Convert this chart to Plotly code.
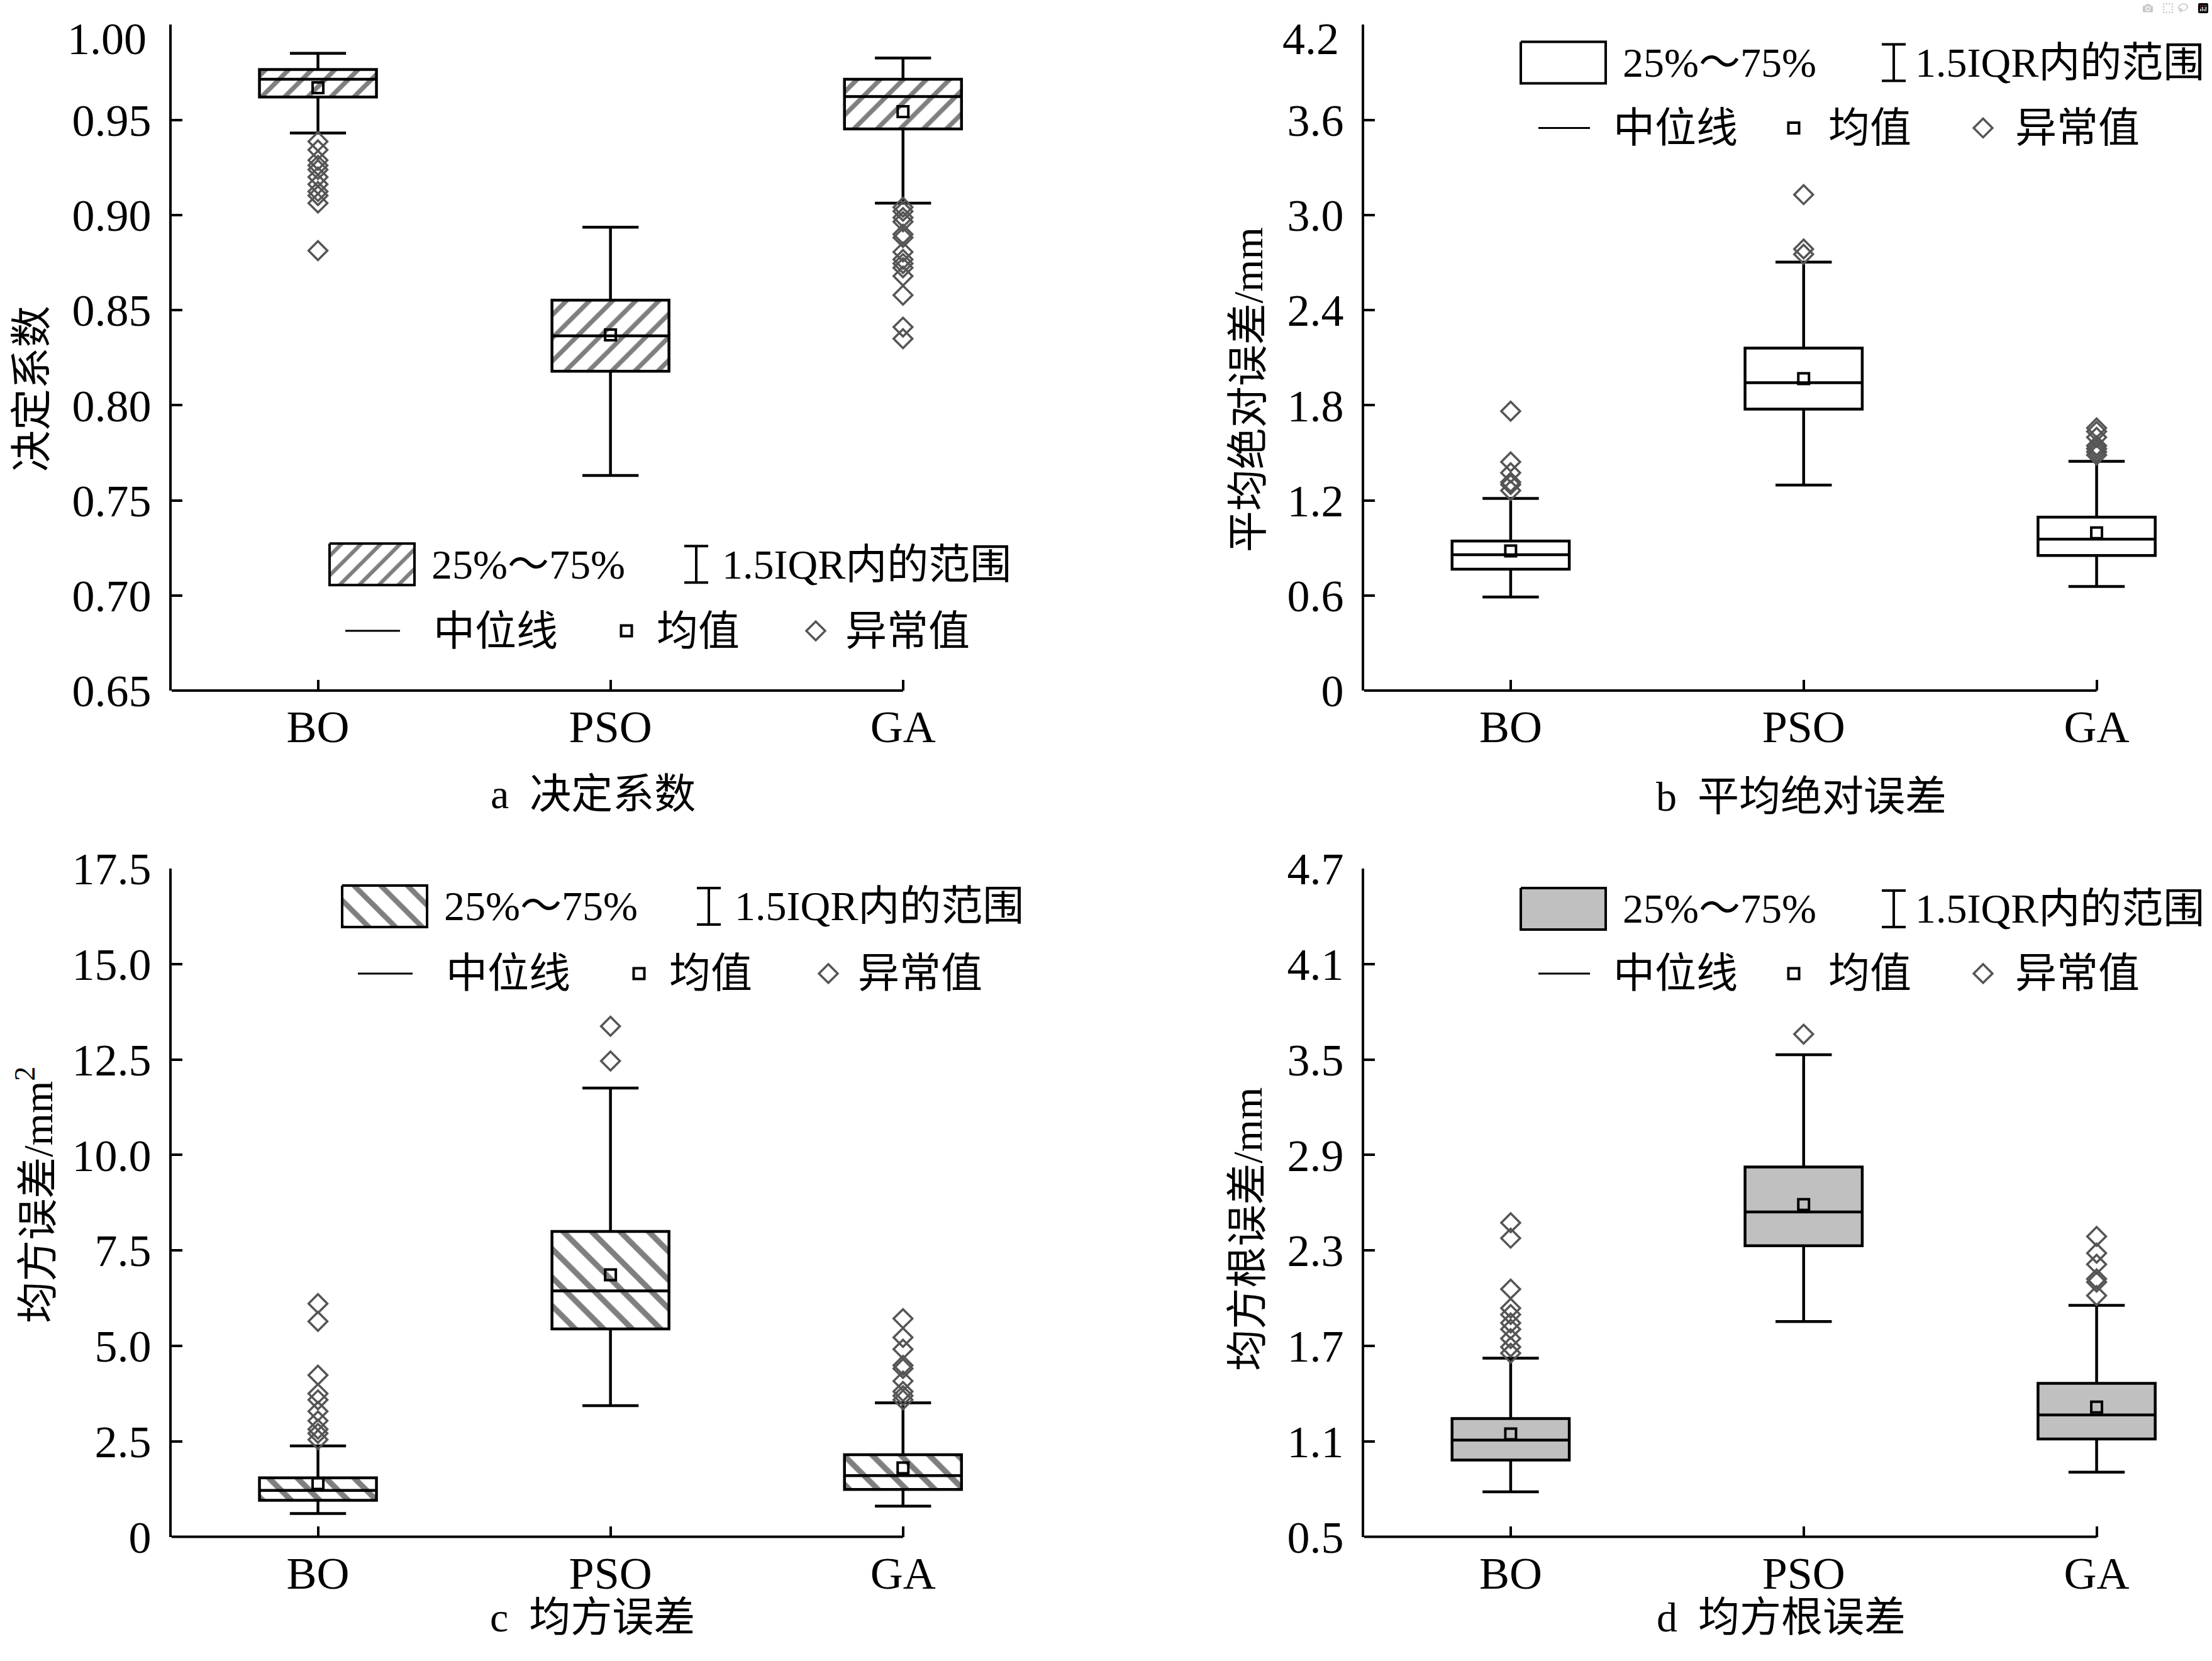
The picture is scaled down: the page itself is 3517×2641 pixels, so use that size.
import plotly.graph_objects as go

# ---- data ----
categories = ["BO", "PSO", "GA"]

# a 决定系数
r2_lower = [0.9431, 0.7631, 0.9063]
r2_q1 = [0.9621, 0.8179, 0.9453]
r2_median = [0.9714, 0.8365, 0.9623]
r2_q3 = [0.9765, 0.8553, 0.9714]
r2_upper = [0.9850, 0.8936, 0.9826]
r2_mean = [0.9669, 0.8370, 0.9544]
r2_outliers_bo = [0.9387, 0.9343, 0.9288, 0.9261, 0.9239, 0.9200, 0.9162, 0.9124, 0.9102, 0.9063, 0.8813]
r2_outliers_pso = []
r2_outliers_ga = [0.9041, 0.9020, 0.8987, 0.8965, 0.8899, 0.8882, 0.8806, 0.8767, 0.8745, 0.8723,
                  0.8679, 0.8579, 0.8411, 0.8350]
r2_ticks = [0.65, 0.70, 0.75, 0.80, 0.85, 0.90, 0.95, 1.00]
r2_ticktext = ["0.65", "0.70", "0.75", "0.80", "0.85", "0.90", "0.95", "1.00"]

# b 平均绝对误差
mae_lower = [0.591, 1.297, 0.657]
mae_q1 = [0.766, 1.776, 0.852]
mae_median = [0.857, 1.942, 0.956]
mae_q3 = [0.944, 2.161, 1.094]
mae_upper = [1.212, 2.703, 1.447]
mae_mean = [0.881, 1.968, 0.995]
mae_outliers_bo = [1.763, 1.443, 1.374, 1.315, 1.300, 1.262]
mae_outliers_pso = [3.129, 2.786, 2.753]
mae_outliers_ga = [1.657, 1.635, 1.598, 1.545, 1.526, 1.506, 1.486]
mae_ticks = [0, 0.6, 1.2, 1.8, 2.4, 3.0, 3.6, 4.2]
mae_ticktext = ["0", "0.6", "1.2", "1.8", "2.4", "3.0", "3.6", "4.2"]

# c 均方误差
mse_lower = [0.609, 3.436, 0.806]
mse_q1 = [0.956, 5.445, 1.240]
mse_median = [1.217, 6.44, 1.602]
mse_q3 = [1.546, 7.995, 2.150]
mse_upper = [2.380, 11.75, 3.510]
mse_mean = [1.393, 6.86, 1.804]
mse_outliers_bo = [6.108, 5.642, 4.233, 3.750, 3.586, 3.285, 3.038, 2.819, 2.709, 2.544]
mse_outliers_pso = [13.37, 12.46]
mse_outliers_ga = [5.714, 5.220, 4.913, 4.490, 4.408, 4.079, 3.806, 3.696, 3.586]
mse_ticks = [0, 2.5, 5.0, 7.5, 10.0, 12.5, 15.0, 17.5]
mse_ticktext = ["0", "2.5", "5.0", "7.5", "10.0", "12.5", "15.0", "17.5"]

# d 均方根误差
rmse_lower = [0.783, 1.853, 0.906]
rmse_q1 = [0.982, 2.329, 1.115]
rmse_median = [1.108, 2.542, 1.266]
rmse_q3 = [1.243, 2.824, 1.465]
rmse_upper = [1.623, 3.530, 1.955]
rmse_mean = [1.147, 2.588, 1.315]
rmse_outliers_bo = [2.474, 2.377, 2.057, 1.937, 1.897, 1.844, 1.805, 1.746, 1.693, 1.654]
rmse_outliers_pso = [3.659]
rmse_outliers_ga = [2.388, 2.283, 2.213, 2.121, 2.101, 2.016]
rmse_ticks = [0.5, 1.1, 1.7, 2.3, 2.9, 3.5, 4.1, 4.7]
rmse_ticktext = ["0.5", "1.1", "1.7", "2.3", "2.9", "3.5", "4.1", "4.7"]

# ---- styling ----
W, H = 3517, 2641
# the page fills the browser viewport, which shows up as a band centred in the picture;
# all pixel positions below are picture positions, mapped onto the page here
OFFSET = 39.5
PAGE_H = H - 2 * OFFSET

FONT = "Liberation Serif, Noto Sans CJK SC"
FS = 66          # chinese text
FS_TICK = 72     # latin tick labels
LW = 4
BOX_LW = 4.5
OUTLIER_COLOR = "#555555"
GRAY_FILL = "#c0c0c0"
X_RANGE = [-0.5, 2.25]   # axis line itself stops at the last category

# plot areas in picture pixels: left, right (end of x range), top, bottom
LEFT_X = (273, 1552)
RIGHT_X = (2169, 3450)
TOP_Y = (40, 1099)
BOTTOM_Y = (1382, 2445)
TOP_LABEL_Y = 63   # top tick label of the upper panels, kept inside the page

# legend key offsets (pixels, relative to left edge of the legend box)
LEFT_LEGEND = dict(t1=160, iqr=583, t2=622, line=(25, 112), med=163, sq=472, mean=518, dia=773, out=818)
RIGHT_LEGEND = dict(t1=160, iqr=593, t2=625, line=(28, 110), med=145, sq=434, mean=487, dia=735, out=784)


def _xdom(px):
    return [px[0] / W, px[1] / W]


def _ydom(px):
    return [1 - (px[1] - OFFSET) / PAGE_H, 1 - (px[0] - OFFSET) / PAGE_H]


def _axis_common():
    return dict(linecolor="black", linewidth=LW, ticks="inside", ticklen=17,
                tickwidth=LW, tickcolor="black", showgrid=False, zeroline=False,
                tickfont=dict(family=FONT, size=FS_TICK, color="black"), fixedrange=True)


def _add_panel(fig, n, stats, outliers, ticks, ticktext, fill, hatch, hatch_size, left_px, top_row):
    """Adds one box-plot panel on axes x{n}/y{n}."""
    xa = "x" if n == 1 else f"x{n}"
    ya = "y" if n == 1 else f"y{n}"
    lower, q1, median, q3, upper, mean = stats

    # hatch inside the 25%-75% box
    if hatch:
        fig.add_trace(go.Bar(
            x=categories, y=[b - a for a, b in zip(q1, q3)], base=q1, width=0.4,
            marker=dict(color="rgba(0,0,0,0)", line_width=0,
                        pattern=dict(shape=hatch, fgcolor="black", bgcolor="rgba(0,0,0,0)",
                                     size=hatch_size, solidity=0.28, fillmode="overlay")),
            showlegend=False, hoverinfo="skip", xaxis=xa, yaxis=ya))

    fig.add_trace(go.Box(
        x=categories, lowerfence=lower, q1=q1, median=median, q3=q3, upperfence=upper,
        width=0.4, whiskerwidth=0.48, boxpoints=False, fillcolor=fill,
        line=dict(color="black", width=BOX_LW), showlegend=False, xaxis=xa, yaxis=ya))

    # outliers
    ox, oy = [], []
    for cat, vals in zip(categories, outliers):
        ox += [cat] * len(vals)
        oy += list(vals)
    fig.add_trace(go.Scatter(
        x=ox, y=oy, mode="markers", cliponaxis=False,
        marker=dict(symbol="diamond-open", size=23, color=OUTLIER_COLOR, line=dict(width=3.5, color=OUTLIER_COLOR)),
        showlegend=False, xaxis=xa, yaxis=ya))

    # means
    fig.add_trace(go.Scatter(
        x=categories, y=mean, mode="markers", cliponaxis=False,
        marker=dict(symbol="square-open", size=17, color="black", line=dict(width=LW, color="black")),
        showlegend=False, xaxis=xa, yaxis=ya))

    # the top tick of the upper panels sits at the very edge of the page,
    # so its label is written just inside instead
    tv, tt = list(ticks), list(ticktext)
    if top_row:
        tv, tt = tv[:-1], tt[:-1]
        fig.add_annotation(xref="x5", yref="y5", x=left_px - 38, y=TOP_LABEL_Y, text=ticktext[-1],
                           showarrow=False, xanchor="right", yanchor="middle",
                           font=dict(family=FONT, size=FS_TICK, color="black"))
    fig.layout[f"yaxis{'' if n == 1 else n}"].update(
        range=[ticks[0], ticks[-1]], tickmode="array", tickvals=tv, ticktext=tt)

    # x axis line stops at the last category, like the original
    fig.add_shape(type="line", xref=xa, yref=f"{ya} domain", x0=X_RANGE[0], x1=len(categories) - 1,
                  y0=0, y1=0, line=dict(color="black", width=LW))


def _add_legend(fig, x0, y1, y2, offs, fill, hatch, hatch_size):
    """Draws the in-panel legend using picture pixel coordinates on the overlay axes."""
    txt = dict(xref="x5", yref="y5", showarrow=False, xanchor="left", yanchor="middle",
               font=dict(family=FONT, size=FS, color="black"))
    line = dict(color="black", width=LW)

    # 25%~75% box key
    rx = [x0, x0 + 135, x0 + 135, x0, x0]
    ry = [y1 - 33, y1 - 33, y1 + 33, y1 + 33, y1 - 33]
    key = dict(x=rx, y=ry, mode="lines", fill="toself", line=line, showlegend=False,
               hoverinfo="skip", xaxis="x5", yaxis="y5")
    if hatch:
        key.update(fillcolor="rgba(0,0,0,0)",
                   fillpattern=dict(shape=hatch, fgcolor="black", bgcolor="rgba(0,0,0,0)",
                                    size=hatch_size, solidity=0.28, fillmode="overlay"))
    else:
        key.update(fillcolor=fill)
    fig.add_trace(go.Scatter(**key))
    fig.add_annotation(x=x0 + offs["t1"], y=y1, text="25%～75%", **txt)

    # whisker key
    xc = x0 + offs["iqr"]
    fig.add_shape(type="line", xref="x5", yref="y5", x0=xc, x1=xc, y0=y1 - 29, y1=y1 + 29, line=line)
    fig.add_shape(type="line", xref="x5", yref="y5", x0=xc - 19, x1=xc + 19, y0=y1 - 29, y1=y1 - 29, line=line)
    fig.add_shape(type="line", xref="x5", yref="y5", x0=xc - 19, x1=xc + 19, y0=y1 + 29, y1=y1 + 29, line=line)
    fig.add_annotation(x=x0 + offs["t2"], y=y1, text="1.5IQR内的范围", **txt)

    # median / mean / outlier keys
    fig.add_shape(type="line", xref="x5", yref="y5", x0=x0 + offs["line"][0], x1=x0 + offs["line"][1],
                  y0=y2, y1=y2, line=dict(color="black", width=3))
    fig.add_annotation(x=x0 + offs["med"], y=y2, text="中位线", **txt)
    fig.add_trace(go.Scatter(
        x=[x0 + offs["sq"]], y=[y2], mode="markers",
        marker=dict(symbol="square-open", size=17, color="black", line=dict(width=LW, color="black")),
        showlegend=False, hoverinfo="skip", xaxis="x5", yaxis="y5"))
    fig.add_annotation(x=x0 + offs["mean"], y=y2, text="均值", **txt)
    fig.add_trace(go.Scatter(
        x=[x0 + offs["dia"]], y=[y2], mode="markers",
        marker=dict(symbol="diamond-open", size=23, color=OUTLIER_COLOR, line=dict(width=3.5, color=OUTLIER_COLOR)),
        showlegend=False, hoverinfo="skip", xaxis="x5", yaxis="y5"))
    fig.add_annotation(x=x0 + offs["out"], y=y2, text="异常值", **txt)


def build_figure():
    fig = go.Figure()

    layout = dict(
        autosize=True, margin=dict(l=0, r=0, t=0, b=0, pad=0),
        paper_bgcolor="white", plot_bgcolor="rgba(0,0,0,0)", showlegend=False,
        font=dict(family=FONT, size=FS, color="black"),
        # overlay axes in picture pixels (y down)
        xaxis5=dict(domain=[0, 1], range=[0, W], visible=False, anchor="y5", fixedrange=True),
        yaxis5=dict(domain=[0, 1], range=[H - OFFSET, OFFSET], visible=False, anchor="x5", fixedrange=True),
    )
    areas = {1: (LEFT_X, TOP_Y), 2: (RIGHT_X, TOP_Y), 3: (LEFT_X, BOTTOM_Y), 4: (RIGHT_X, BOTTOM_Y)}
    for n, (xp, yp) in areas.items():
        s = "" if n == 1 else str(n)
        xa = _axis_common()
        xa.update(domain=_xdom(xp), anchor=f"y{s}", type="category", categoryorder="array",
                  categoryarray=categories, range=X_RANGE, showline=False, ticklabelstandoff=9)
        ya = _axis_common()
        ya.update(domain=_ydom(yp), anchor=f"x{s}", showline=True, ticklabelstandoff=14)
        layout[f"xaxis{s}"] = xa
        layout[f"yaxis{s}"] = ya
    fig.update_layout(**layout)

    _add_panel(fig, 1, (r2_lower, r2_q1, r2_median, r2_q3, r2_upper, r2_mean),
               (r2_outliers_bo, r2_outliers_pso, r2_outliers_ga), r2_ticks, r2_ticktext,
               "rgba(0,0,0,0)", "/", 26, LEFT_X[0], True)
    _add_panel(fig, 2, (mae_lower, mae_q1, mae_median, mae_q3, mae_upper, mae_mean),
               (mae_outliers_bo, mae_outliers_pso, mae_outliers_ga), mae_ticks, mae_ticktext,
               "white", "", 0, RIGHT_X[0], True)
    _add_panel(fig, 3, (mse_lower, mse_q1, mse_median, mse_q3, mse_upper, mse_mean),
               (mse_outliers_bo, mse_outliers_pso, mse_outliers_ga), mse_ticks, mse_ticktext,
               "rgba(0,0,0,0)", "\\", 32, LEFT_X[0], False)
    _add_panel(fig, 4, (rmse_lower, rmse_q1, rmse_median, rmse_q3, rmse_upper, rmse_mean),
               (rmse_outliers_bo, rmse_outliers_pso, rmse_outliers_ga), rmse_ticks, rmse_ticktext,
               GRAY_FILL, "", 0, RIGHT_X[0], False)

    # legends
    _add_legend(fig, 524, 898, 1004, LEFT_LEGEND, None, "/", 22)
    _add_legend(fig, 2418, 100, 204, RIGHT_LEGEND, "white", "", 0)
    _add_legend(fig, 544, 1442, 1549, LEFT_LEGEND, None, "\\", 30)
    _add_legend(fig, 2418, 1446, 1549, RIGHT_LEGEND, GRAY_FILL, "", 0)

    # y-axis titles and panel captions
    txt = dict(xref="x5", yref="y5", showarrow=False, font=dict(family=FONT, size=FS, color="black"))
    ytitles = [("决定系数", 50, 619), ("平均绝对误差/mm", 1984, 621),
               ("均方误差/mm<sup>2</sup>", 56, 1901), ("均方根误差/mm", 1984, 1956)]
    for text, x, y in ytitles:
        fig.add_annotation(x=x, y=y, text=text, textangle=-90, xanchor="center", yanchor="middle", **txt)
    captions = [("a\u00a0\u00a0决定系数", 943, 1263), ("b\u00a0\u00a0平均绝对误差", 2864, 1267),
                ("c\u00a0\u00a0均方误差", 942, 2573), ("d\u00a0\u00a0均方根误差", 2832, 2573)]
    for text, x, y in captions:
        fig.add_annotation(x=x, y=y, text=text, xanchor="center", yanchor="middle", **txt)

    return fig


POST_SCRIPT = """
document.documentElement.style.margin='0';
document.documentElement.style.overflow='hidden';
document.body.style.margin='0';
document.body.style.overflow='hidden';
Plotly.Plots.resize(document.getElementById('{plot_id}'));
"""

if __name__ == "__main__":
    fig = build_figure()
    fig.write_html("out.html", default_width="100vw", default_height="100vh", post_script=POST_SCRIPT)
